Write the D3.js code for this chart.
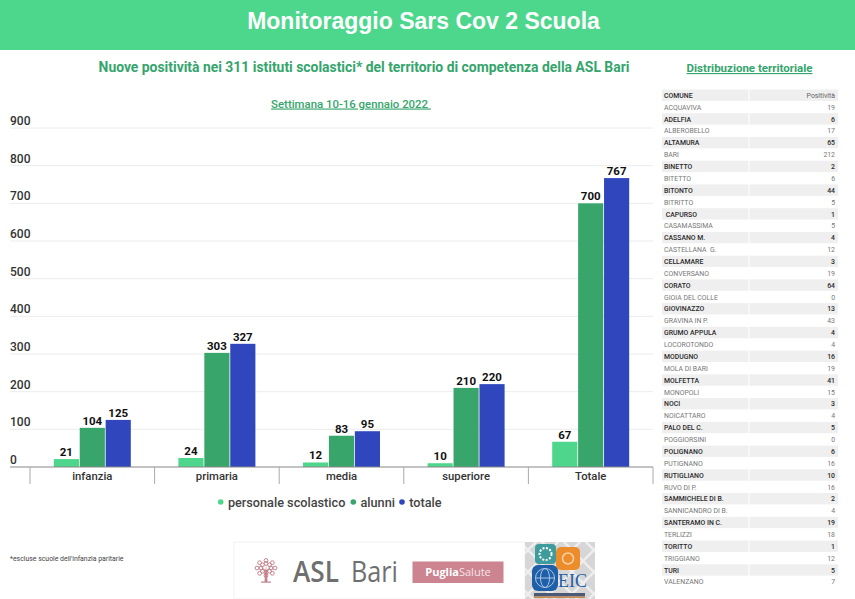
<!DOCTYPE html>
<html>
<head>
<meta charset="utf-8">
<script src="https://cdn.jsdelivr.net/npm/d3@7"></script>
<style>
  html, body { margin: 0; padding: 0; background: #fff; }
  svg { display: block; }
  text { font-family: Roboto, sans-serif; }
</style>
</head>
<body>
<svg id="chart" width="855" height="599"></svg>
<script>
const categories = ["infanzia", "primaria", "media", "superiore", "Totale"];
const seriesNames = ["personale scolastico", "alunni", "totale"];
const personale = [21, 24, 12, 10, 67];
const alunni = [104, 303, 83, 210, 700];
const totale = [125, 327, 95, 220, 767];
const yTicks = [0, 100, 200, 300, 400, 500, 600, 700, 800, 900];

const comuni = ["ACQUAVIVA", "ADELFIA", "ALBEROBELLO", "ALTAMURA", "BARI", "BINETTO", "BITETTO", "BITONTO", "BITRITTO", " CAPURSO", "CASAMASSIMA", "CASSANO M.", "CASTELLANA  G.", "CELLAMARE", "CONVERSANO", "CORATO", "GIOIA DEL COLLE", "GIOVINAZZO", "GRAVINA IN P.", "GRUMO APPULA", "LOCOROTONDO", "MODUGNO", "MOLA DI BARI", "MOLFETTA", "MONOPOLI", "NOCI", "NOICATTARO", "PALO DEL C.", "POGGIORSINI", "POLIGNANO", "PUTIGNANO", "RUTIGLIANO", "RUVO DI P.", "SAMMICHELE DI B.", "SANNICANDRO DI B.", "SANTERAMO IN C.", "TERLIZZI", "TORITTO", "TRIGGIANO", "TURI", "VALENZANO"];
const positivita = [19, 6, 17, 65, 212, 2, 6, 44, 5, 1, 5, 4, 12, 3, 19, 64, 0, 13, 43, 4, 4, 16, 19, 41, 15, 3, 4, 5, 0, 6, 16, 10, 16, 2, 4, 19, 18, 1, 12, 5, 7];

const colors = ["#4dd68c", "#38a56b", "#2f46bd"];
const greenText = "#34a56c";
const svg = d3.select("#chart");

// banner
svg.append("rect").attr("width", 855).attr("height", 50).attr("fill", "#4cd78d");
svg.append("text").attr("x", 423.5).attr("y", 29).attr("text-anchor", "middle")
  .style("font-family", "'Liberation Sans', sans-serif")
  .attr("font-size", 23).attr("font-weight", 700).attr("fill", "#fff")
  .text("Monitoraggio Sars Cov 2 Scuola");

svg.append("text").attr("x", 364).attr("y", 71.5).attr("text-anchor", "middle")
  .attr("font-size", 13.9).attr("font-weight", 700).attr("fill", greenText)
  .text("Nuove positività nei 311 istituti scolastici* del territorio di competenza della ASL Bari");

svg.append("text").attr("x", 351).attr("y", 107.5).attr("text-anchor", "middle")
  .attr("font-size", 11.4).attr("font-weight", 500).attr("fill", greenText)
  .attr("text-decoration", "underline").attr("xml:space", "preserve")
  .text("Settimana 10-16 gennaio 2022 ");

svg.append("text").attr("x", 749.5).attr("y", 72).attr("text-anchor", "middle")
  .attr("font-size", 11.5).attr("font-weight", 700).attr("fill", greenText)
  .attr("text-decoration", "underline")
  .text("Distribuzione territoriale");

// chart
const x = d3.scaleBand().domain(categories).range([30, 653]);
const groupWidth = 77;
const x1 = d3.scaleBand().domain(seriesNames).range([0, groupWidth]).paddingInner(0.03);
const y = d3.scaleLinear().domain([0, 900]).range([467, 128]);

svg.append("g").selectAll("line").data(yTicks.slice(1)).join("line")
  .attr("x1", 10).attr("x2", 653)
  .attr("y1", d => y(d)).attr("y2", d => y(d))
  .attr("stroke", "#ececec");

svg.append("g").selectAll("text").data(yTicks).join("text")
  .attr("x", 10).attr("y", d => y(d) - 3)
  .attr("font-size", 12).attr("font-weight", 500).attr("fill", "#333")
  .text(d => d);

const series = [personale, alunni, totale];
const groups = svg.append("g").selectAll("g").data(categories).join("g")
  .attr("transform", d => `translate(${x(d) + x.bandwidth() / 2 - groupWidth / 2},0)`);

groups.each(function (cat, i) {
  const g = d3.select(this);
  const rows = seriesNames.map((name, s) => ({ name, s, value: series[s][i] }));
  g.selectAll("rect").data(rows).join("rect")
    .attr("x", d => x1(d.name))
    .attr("width", x1.bandwidth())
    .attr("y", d => y(d.value))
    .attr("height", d => y(0) - y(d.value))
    .attr("fill", d => colors[d.s]);
  g.selectAll("text").data(rows).join("text")
    .attr("x", d => x1(d.name) + x1.bandwidth() / 2)
    .attr("y", d => y(d.value) - 3)
    .attr("text-anchor", "middle")
    .attr("font-size", 11.5).attr("font-weight", 700).attr("fill", "#111")
    .text(d => d.value);
});

// x axis
svg.append("line").attr("x1", 10).attr("x2", 653).attr("y1", 467).attr("y2", 467)
  .attr("stroke", "#888").attr("stroke-width", 1.2);
const xEdges = categories.map(d => x(d)).concat([x.range()[1]]);
svg.append("g").selectAll("line").data(xEdges).join("line")
  .attr("x1", d => d).attr("x2", d => d).attr("y1", 467).attr("y2", 484)
  .attr("stroke", "#aaa");
svg.append("g").selectAll("text").data(categories).join("text")
  .attr("x", d => x(d) + x.bandwidth() / 2).attr("y", 479.5)
  .attr("text-anchor", "middle")
  .attr("font-size", 11.3).attr("font-weight", 500).attr("fill", "#333")
  .text(d => d);

// legend
const legendDotX = [220.7, 353.3, 402];
const legend = svg.append("g").selectAll("g").data(seriesNames).join("g")
  .attr("transform", (d, i) => `translate(${legendDotX[i]},502)`);
legend.append("circle").attr("r", 2.8).attr("fill", (d, i) => colors[i]);
legend.append("text").attr("x", 7.2).attr("y", 4.5)
  .attr("font-size", 12.7).attr("font-weight", 500).attr("fill", "#444")
  .text(d => d);

svg.append("text").attr("x", 10).attr("y", 561)
  .attr("font-size", 6.9).attr("fill", "#444")
  .text("*escluse scuole dell'infanzia paritarie");

// territorial table
const rowKeys = ["COMUNE"].concat(comuni);
const rowY = d3.scaleBand().domain(d3.range(rowKeys.length)).range([89.5, 588]);
const table = svg.append("g");
const rows = table.selectAll("g").data(rowKeys).join("g")
  .attr("transform", (d, i) => `translate(0,${rowY(i)})`);
rows.filter((d, i) => i % 2 === 0).append("rect")
  .attr("x", 662).attr("width", 86.5).attr("height", rowY.bandwidth() - 0.5).attr("fill", "#efefef");
rows.filter((d, i) => i % 2 === 0).append("rect")
  .attr("x", 749.5).attr("width", 88.5).attr("height", rowY.bandwidth() - 0.5).attr("fill", "#efefef");
const rowText = (i) => i % 2 === 0 ? "#2a2a2a" : "#777";
rows.append("text").attr("x", 664).attr("y", rowY.bandwidth() / 2 + 2.4)
  .attr("xml:space", "preserve")
  .attr("font-size", 6.9).attr("font-weight", (d, i) => i % 2 === 0 ? 500 : 400)
  .attr("fill", (d, i) => rowText(i))
  .text(d => d);
rows.append("text").attr("x", 835).attr("y", rowY.bandwidth() / 2 + 2.4)
  .attr("text-anchor", "end")
  .attr("font-size", 6.9).attr("font-weight", (d, i) => i % 2 === 0 && i > 0 ? 500 : 400)
  .attr("fill", (d, i) => i === 0 ? "#666" : rowText(i))
  .text((d, i) => i === 0 ? "Positività" : positivita[i - 1]);

// logo strip
const logo = svg.append("g");
logo.append("rect").attr("x", 234).attr("y", 542).attr("width", 291).attr("height", 57)
  .attr("fill", "#fff").attr("stroke", "#f1f1f1");
const tree = logo.append("g").attr("transform", "translate(266,572)").attr("fill", "#c4838d");
tree.append("path").attr("d", "M-1.5 10 L1.5 10 L1 0 L5 -5 L0.5 -2 L0 -7 L-0.5 -2 L-5 -5 L-1 0 Z");
tree.append("rect").attr("x", -5).attr("y", 9.5).attr("width", 10).attr("height", 1.2);
tree.selectAll("circle").data(d3.range(16)).join("circle")
  .attr("cx", d => Math.cos(d * 0.785) * (d < 8 ? 9 : 5))
  .attr("cy", d => Math.sin(d * 0.785) * (d < 8 ? 7.5 : 4.5) - 4)
  .attr("r", 1.9).attr("fill", "none").attr("stroke", "#c4838d");
logo.append("text").attr("x", 293).attr("y", 582)
  .style("font-family", "'Open Sans', sans-serif")
  .attr("textLength", 46).attr("lengthAdjust", "spacingAndGlyphs")
  .attr("font-size", 29).attr("font-weight", 600).attr("fill", "#6f6f6f").text("ASL");
logo.append("text").attr("x", 351).attr("y", 582)
  .style("font-family", "'Open Sans', sans-serif")
  .attr("textLength", 47).attr("lengthAdjust", "spacingAndGlyphs")
  .attr("font-size", 29).attr("fill", "#6f6f6f").text("Bari");
logo.append("rect").attr("x", 412.5).attr("y", 561.5).attr("width", 91).attr("height", 21.5).attr("fill", "#cb8490");
const ps = logo.append("text").attr("x", 458).attr("y", 576).attr("text-anchor", "middle")
  .style("font-family", "'Open Sans', sans-serif")
  .attr("font-size", 11).attr("fill", "#fff");
ps.append("tspan").attr("font-weight", 700).text("Puglia");
ps.append("tspan").attr("fill", "#f5e3e6").text("Salute");

// EIC badge
const eic = svg.append("g");
const defs = svg.append("defs");
const diamonds = defs.append("pattern").attr("id", "diamonds").attr("patternUnits", "userSpaceOnUse")
  .attr("width", 22).attr("height", 22);
diamonds.append("rect").attr("width", 22).attr("height", 22).attr("fill", "#d6d6d6");
diamonds.append("path").attr("d", "M0 0 L22 22 M22 0 L0 22").attr("stroke", "#eeeeee").attr("stroke-width", 2.5);
eic.append("rect").attr("x", 525).attr("y", 542).attr("width", 70).attr("height", 57).attr("fill", "url(#diamonds)");
eic.append("rect").attr("x", 535).attr("y", 544).attr("width", 21).attr("height", 20).attr("rx", 4).attr("fill", "#3f9c9c");
eic.append("circle").attr("cx", 545.5).attr("cy", 554).attr("r", 6).attr("fill", "none").attr("stroke", "#fff").attr("stroke-width", 2).attr("stroke-dasharray", "2 1.5");
eic.append("rect").attr("x", 556).attr("y", 547).attr("width", 24).attr("height", 23).attr("rx", 5).attr("fill", "#ed8c2b");
eic.append("circle").attr("cx", 568).attr("cy", 558.5).attr("r", 5.5).attr("fill", "none").attr("stroke", "#f8d2a4").attr("stroke-width", 1.5);
eic.append("rect").attr("x", 532).attr("y", 565).attr("width", 26).attr("height", 26).attr("rx", 6).attr("fill", "#1f5fa8");
eic.append("circle").attr("cx", 545).attr("cy", 578).attr("r", 9.5).attr("fill", "none").attr("stroke", "#a9c7e6");
eic.append("ellipse").attr("cx", 545).attr("cy", 578).attr("rx", 4.5).attr("ry", 9.5).attr("fill", "none").attr("stroke", "#a9c7e6");
eic.append("line").attr("x1", 535.5).attr("x2", 554.5).attr("y1", 578).attr("y2", 578).attr("stroke", "#a9c7e6");
eic.append("text").attr("x", 558).attr("y", 587)
  .style("font-family", "'Liberation Serif', serif")
  .attr("font-size", 18).attr("fill", "#1f5fa8").text("EIC");
eic.append("rect").attr("x", 534).attr("y", 593).attr("width", 51).attr("height", 3.5).attr("fill", "#4a5a78");
eic.append("rect").attr("x", 534).attr("y", 596.5).attr("width", 51).attr("height", 1.5).attr("fill", "#c98a4a");
</script>
</body>
</html>
